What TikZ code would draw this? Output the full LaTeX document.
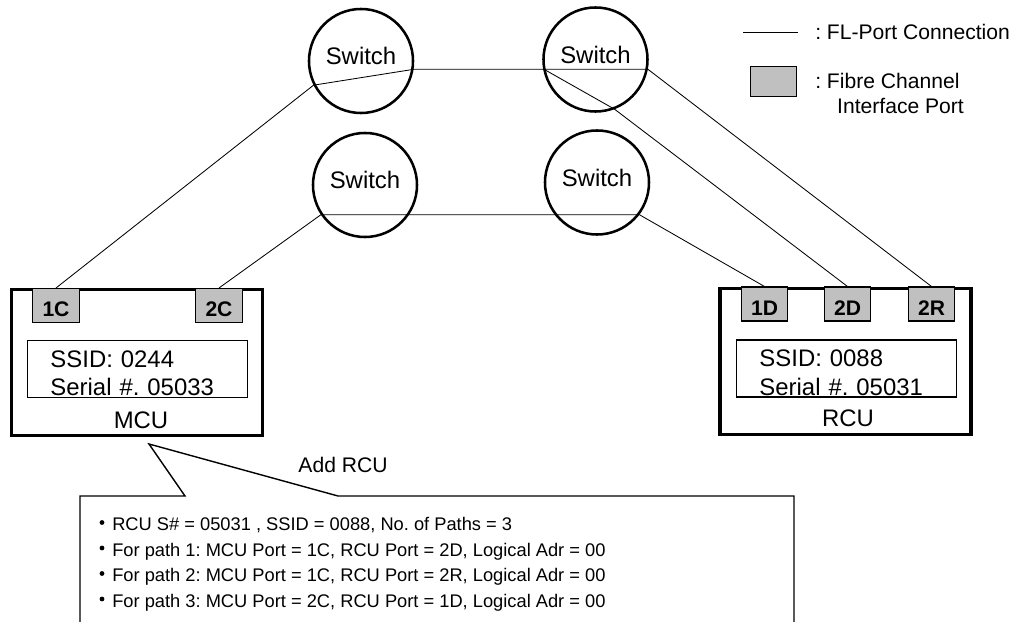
\documentclass[tikz,border=0pt]{standalone}
\usepackage{fontspec}
\setmainfont{Liberation Sans}
\frenchspacing
\definecolor{portgray}{RGB}{192,192,192}
\tikzset{
  cswitch/.style={draw,circle,line width=1.8pt,minimum size=2.6cm,inner sep=0pt,font=\fontsize{17}{20}\selectfont,text height=12pt,text depth=7pt},
  cunit/.style={draw,line width=2.4pt,minimum width=6.28cm,minimum height=3.65cm},
  cport/.style={draw,line width=1pt,fill=portgray,minimum width=1.16cm,minimum height=0.84cm,inner sep=0pt,font=\bfseries\fontsize{15}{18}\selectfont,text height=16pt,text depth=0pt},
  cinfo/.style={draw,line width=1pt,minimum width=5.5cm,minimum height=1.43cm,text width=4.35cm,inner xsep=0.575cm,inner ysep=0pt,align=left,font=\fontsize{17}{20.5}\selectfont},
  clab/.style={font=\fontsize{17}{20}\selectfont,inner sep=0pt},
  clabM/.style={font=\fontsize{15}{18.4}\selectfont,inner sep=0pt},
  clabS/.style={font=\fontsize{13}{15}\selectfont,inner sep=0pt},
  clink/.style={line width=0.6pt},
}
\begin{document}
\begin{tikzpicture}[x=0.025cm,y=-0.025cm]
%% Pixel grid of the original: x to the right, y downwards.
\useasboundingbox (0,0) rectangle (1014,622);
% ---- the four switches
\node[cswitch] (swTL) at (361,61) {Switch};
\node[cswitch] (swTR) at (595.5,59.5) {Switch};
\node[cswitch] (swBL) at (365,185) {Switch};
\node[cswitch] (swBR) at (597,182.5) {Switch};
% ---- MCU and its ports
\node[cunit] (mcu) at (137,362.5) {};
\node[cport] (p1C) at (56,305.5) {1C};
\node[cport] (p2C) at (219,305.5) {2C};
\node[cinfo] (infoM) at (137.5,369) {\rule{0pt}{18pt}SSID: 0244\\Serial \#. 05033};
\node[clab] (mcuT) at (141,420) {MCU};
% ---- RCU and its ports
\node[cunit] (rcu) at (845.5,361.5) {};
\foreach \pn/\px in {1D/764.5,2D/847.5,2R/931.5}{
  \node[cport] (p\pn) at (\px,304) {\pn};}
\node[cinfo] (infoR) at (846.5,368.5) {\rule{0pt}{18pt}SSID: 0088\\Serial \#. 05031};
\node[clab] (rcuT) at (848,418) {RCU};
% ---- FL-port connections, chords run straight through the switches
\draw[clink] (p1C.north) -- (swTL.207) -- (swTL.351) -- (swTL.351 -| swTR.350) -- (p2R.north);
\draw[clink] (swTR.190) -- (swTR.291) -- (p2D.north);
\draw[clink] (p2C.north) -- (swBL.214) -- (swBL.214 -| swBR.323) -- (p1D.north);
% ---- legend
\coordinate (lgA) at (743,32);
\draw[clink] (lgA) -- ++(55,0);
\node[clabM,anchor=west] (lgT1) at (815,32) {: FL-Port Connection};
\node[cport,minimum width=1.14cm,minimum height=0.74cm] (lgP) at (773.5,81.5) {};
\node[clabM,anchor=west,align=left] (lgT2) at (815,93.5) {: Fibre Channel\\\hspace*{15.6pt}Interface Port};
% ---- callout from the MCU, cut off by the lower edge
\coordinate (tip) at (149,444);
\draw[line width=1pt] (80,622) |- (185,496) -- (tip) -- (338,496) -| (794,622);
\node[clabM] (addT) at (343,465) {Add RCU};
\foreach \i/\txt in {0/{RCU S\# = 05031 , SSID = 0088, No. of Paths = 3},
                     1/{For path 1: MCU Port = 1C, RCU Port = 2D, Logical Adr = 00},
                     2/{For path 2: MCU Port = 1C, RCU Port = 2R, Logical Adr = 00},
                     3/{For path 3: MCU Port = 2C, RCU Port = 1D, Logical Adr = 00}}{
  \fill (102,522.5+\i*25.5) circle (1.7pt);
  \node[clabS,anchor=base west] (note\i) at (112,531+\i*25.5) {\txt};}
\end{tikzpicture}
\end{document}
